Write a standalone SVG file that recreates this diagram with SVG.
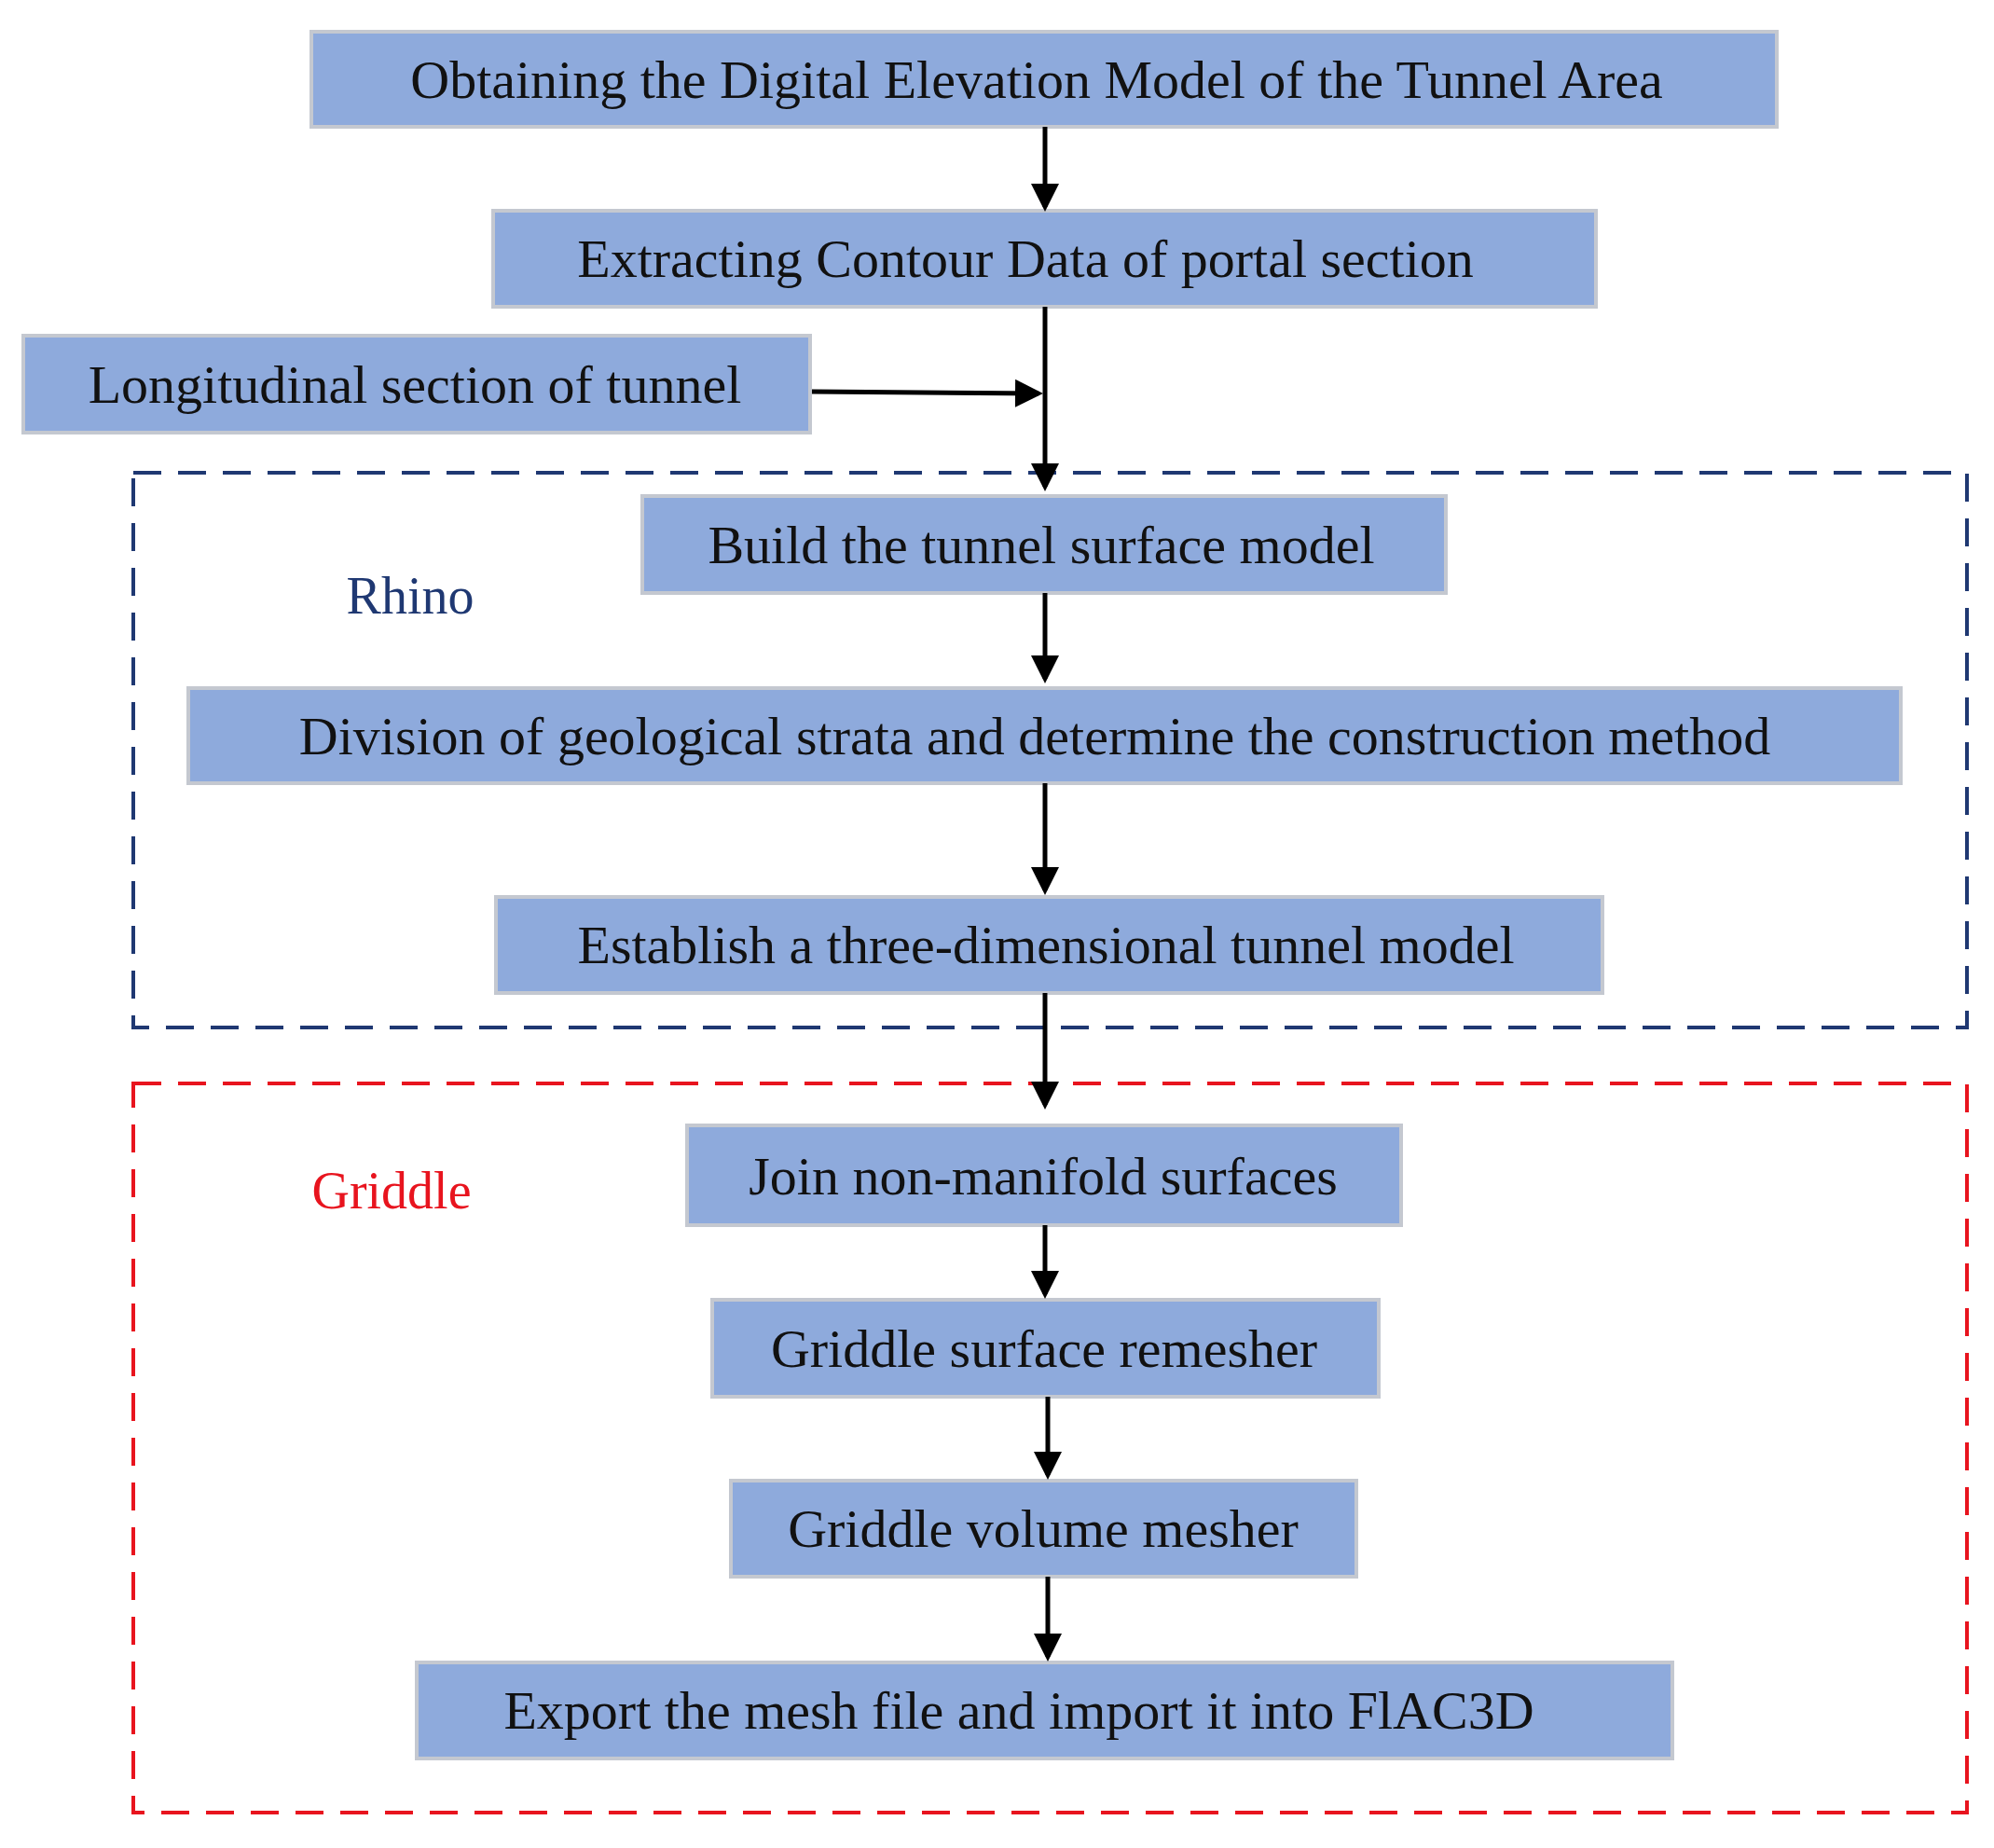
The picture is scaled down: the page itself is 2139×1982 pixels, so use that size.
<svg xmlns="http://www.w3.org/2000/svg" width="2139" height="1982" viewBox="0 0 2139 1982">
<style>
.b{fill:#8eaadc;stroke:#c4c8d0;stroke-width:4}
.t{font-family:"Liberation Serif",serif;font-size:58px;fill:#111;text-anchor:middle}
.c{stroke:#000;stroke-width:5;fill:none;marker-end:url(#a)}
</style>
<defs><marker id="a" markerWidth="6" markerHeight="6" refX="5" refY="3" orient="auto" markerUnits="strokeWidth"><path d="M0,0L6,3L0,6z" fill="#000"/></marker></defs>
<rect width="2139" height="1982" fill="#fff"/>
<g id="rhino"><rect x="143" y="507" width="1967" height="595" fill="none" stroke="#1f3872" stroke-width="4" stroke-dasharray="30,18"/><text x="440" y="658" font-family="Liberation Serif,serif" font-size="56" fill="#1f3872" text-anchor="middle">Rhino</text></g>
<g id="griddle"><rect x="143" y="1162" width="1967" height="782" fill="none" stroke="#e8141e" stroke-width="4" stroke-dasharray="30,18"/><text x="420" y="1296" font-family="Liberation Serif,serif" font-size="56" fill="#e8141e" text-anchor="middle">Griddle</text></g>
<g id="n1"><rect class="b" x="334" y="34" width="1572" height="102"/><text class="t" x="1112" y="105">Obtaining the Digital Elevation Model of the Tunnel Area</text></g>
<g id="n2"><rect class="b" x="529" y="226" width="1183" height="103"/><text class="t" x="1100" y="297">Extracting Contour Data of portal section</text></g>
<g id="n3"><rect class="b" x="25" y="360" width="844" height="104"/><text class="t" x="445" y="432">Longitudinal section of tunnel</text></g>
<g id="n4"><rect class="b" x="689" y="532" width="862" height="104"/><text class="t" x="1117" y="604">Build the tunnel surface model</text></g>
<g id="n5"><rect class="b" x="202" y="738" width="1837" height="102"/><text class="t" x="1110" y="809">Division of geological strata and determine the construction method</text></g>
<g id="n6"><rect class="b" x="532" y="962" width="1187" height="103"/><text class="t" x="1122" y="1033">Establish a three-dimensional tunnel model</text></g>
<g id="n7"><rect class="b" x="737" y="1207" width="766" height="107"/><text class="t" x="1119" y="1281">Join non-manifold surfaces</text></g>
<g id="n8"><rect class="b" x="764" y="1394" width="715" height="104"/><text class="t" x="1120" y="1466">Griddle surface remesher</text></g>
<g id="n9"><rect class="b" x="784" y="1588" width="671" height="103"/><text class="t" x="1119" y="1659">Griddle volume mesher</text></g>
<g id="n10"><rect class="b" x="447" y="1783" width="1347" height="103"/><text class="t" x="1093" y="1854">Export the mesh file and import it into FlAC3D</text></g>
<g id="connectors">
<line class="c" x1="1121" y1="136" x2="1121" y2="222"/>
<line class="c" x1="1121" y1="329" x2="1121" y2="522"/>
<line class="c" x1="871" y1="420" x2="1114" y2="422"/>
<line class="c" x1="1121" y1="636" x2="1121" y2="728"/>
<line class="c" x1="1121" y1="840" x2="1121" y2="955"/>
<line class="c" x1="1121" y1="1065" x2="1121" y2="1185"/>
<line class="c" x1="1121" y1="1314" x2="1121" y2="1388"/>
<line class="c" x1="1124" y1="1498" x2="1124" y2="1582"/>
<line class="c" x1="1124" y1="1691" x2="1124" y2="1777"/>
</g>
</svg>
